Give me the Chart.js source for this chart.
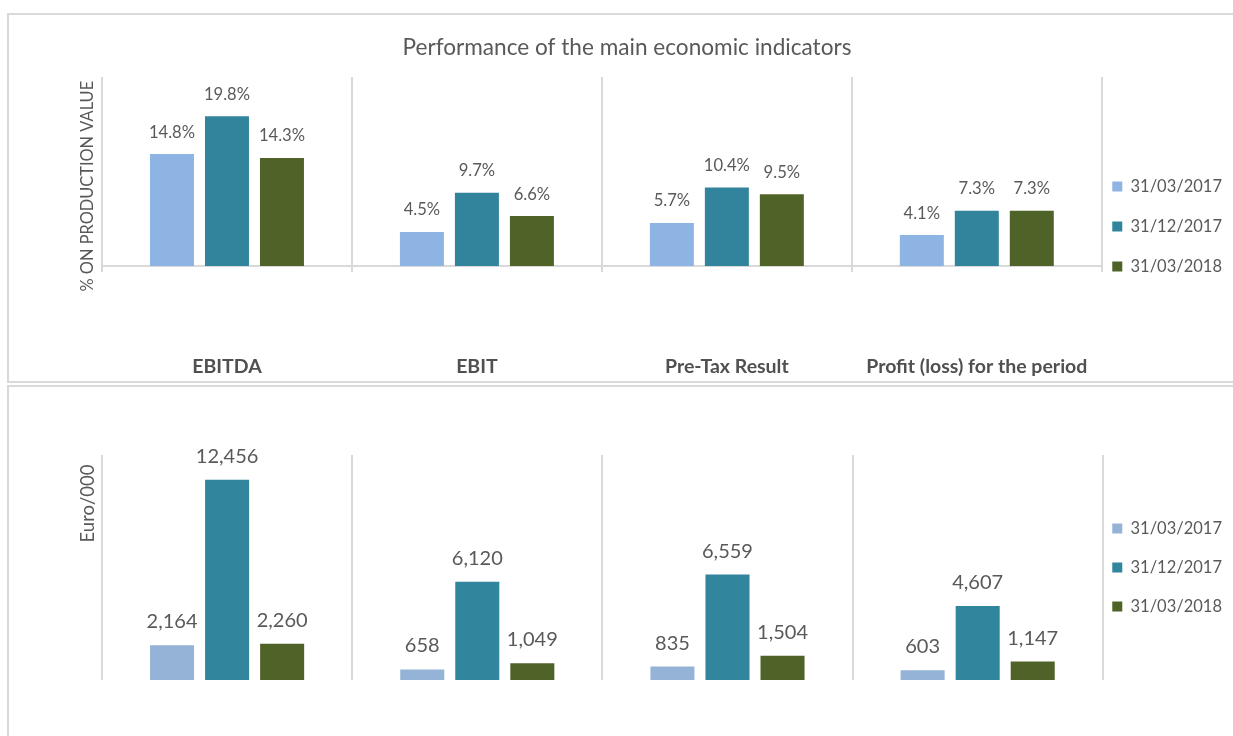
<!DOCTYPE html>
<html>
<head>
<meta charset="utf-8">
<script src="https://cdn.jsdelivr.net/npm/chart.js@4/dist/chart.umd.min.js"></script>
<style>
  html, body { margin: 0; padding: 0; background: #ffffff; overflow: hidden; width: 1233px; height: 736px; }
  .frame { position: absolute; left: 7px; width: 1236px; border: 2px solid #D9D9D9; box-sizing: content-box; background: #fff; }
  #f1 { top: 13px; height: 366px; }
  #f2 { top: 385px; height: 360px; }
  .frame canvas { display: block; }
</style>
</head>
<body>
<div class="frame" id="f1"><canvas id="c1" width="1236" height="366"></canvas></div>
<div class="frame" id="f2"><canvas id="c2" width="1236" height="360"></canvas></div>
<script>
// ---- data ----
const categories = ['EBITDA', 'EBIT', 'Pre-Tax Result', 'Profit (loss) for the period'];
const seriesLabels = ['31/03/2017', '31/12/2017', '31/03/2018'];
const pctQ1_2017 = [14.8, 4.5, 5.7, 4.1];
const pctFY_2017 = [19.8, 9.7, 10.4, 7.3];
const pctQ1_2018 = [14.3, 6.6, 9.5, 7.3];
const eurQ1_2017 = [2164, 658, 835, 603];
const eurFY_2017 = [12456, 6120, 6559, 4607];
const eurQ1_2018 = [2260, 1049, 1504, 1147];
const chartTitle = 'Performance of the main economic indicators';
const pctAxisTitle = '% ON PRODUCTION VALUE';
const eurAxisTitle = 'Euro/000';

// ---- helpers ----
const FONT = 'Lato';
const nb = n => '\u00A0'.repeat(n);

function valueLabels(format, size, offset, color) {
  return {
    id: 'valueLabels',
    afterDatasetsDraw(chart) {
      const ctx = chart.ctx;
      ctx.save();
      ctx.font = size + 'px ' + FONT;
      ctx.fillStyle = color;
      ctx.textAlign = 'center';
      ctx.textBaseline = 'alphabetic';
      chart.data.datasets.forEach((ds, i) => {
        const meta = chart.getDatasetMeta(i);
        meta.data.forEach((bar, j) => {
          ctx.fillText(format(ds.data[j]), bar.x, bar.y - offset);
        });
      });
      ctx.restore();
    }
  };
}

function legendShift(dx, dy) {
  return {
    id: 'legendShift',
    afterLayout(chart) {
      const lg = chart.legend;
      if (!lg) return;
      lg.left += dx; lg.right += dx;
      lg.top += dy; lg.bottom += dy;
    }
  };
}

function makeDatasets(colors, a, b, c) {
  return [a, b, c].map((d, i) => ({
    label: seriesLabels[i],
    data: d,
    backgroundColor: colors[i],
    borderWidth: 0,
    categoryPercentage: 0.66,
    barPercentage: 0.8
  }));
}

// ---- top chart (% on production value) ----
new Chart(document.getElementById('c1'), {
  type: 'bar',
  data: {
    labels: categories,
    datasets: makeDatasets(['#8EB4E3', '#31849B', '#4F6228'], pctQ1_2017, pctFY_2017, pctQ1_2018)
  },
  options: {
    responsive: false,
    animation: false,
    devicePixelRatio: 1,
    layout: { padding: { left: 0, right: 0, top: 0, bottom: 0 } },
    plugins: {
      title: {
        display: true, text: chartTitle, color: '#595959',
        font: { family: FONT, size: 22.6, weight: 'normal' },
        padding: { top: 19.4, bottom: 15.5 }
      },
      legend: {
        position: 'right',
        labels: {
          boxWidth: 10, boxHeight: 10, padding: 23.5, color: '#595959',
          font: { family: FONT, size: 16.5 }
        }
      },
      tooltip: { enabled: false }
    },
    scales: {
      x: {
        grid: { color: '#D9D9D9', lineWidth: 2, tickLength: 6, offset: true, drawTicks: true },
        border: { display: true, color: '#D9D9D9', width: 2 },
        ticks: {
          padding: 83.5, color: '#505050', maxRotation: 0, autoSkip: false,
          font: { family: FONT, size: 19.5, weight: 'bold' }
        },
        afterFit(s) { s.height = 115; }
      },
      y: {
        min: 0, max: 25,
        grid: { display: false },
        border: { display: false },
        ticks: { display: false },
        title: {
          display: true, text: pctAxisTitle + nb(7), color: '#595959',
          font: { family: FONT, size: 16.4 }, padding: { top: 69.2, bottom: 0 }
        },
        afterFit(s) { s.width = 93; }
      }
    }
  },
  plugins: [valueLabels(v => v.toFixed(1) + '%', 16.6, 16.5, '#595959'), legendShift(-13, 28.5)]
});

// ---- bottom chart (Euro/000) ----
new Chart(document.getElementById('c2'), {
  type: 'bar',
  data: {
    labels: categories,
    datasets: makeDatasets(['#95B3D7', '#31859C', '#4F6228'], eurQ1_2017, eurFY_2017, eurQ1_2018)
  },
  options: {
    responsive: false,
    animation: false,
    devicePixelRatio: 1,
    layout: { padding: { left: 0, right: 0, top: 68, bottom: 0 } },
    plugins: {
      title: { display: false },
      legend: {
        position: 'right',
        labels: {
          boxWidth: 10, boxHeight: 10, padding: 22.5, color: '#595959',
          font: { family: FONT, size: 16.5 }
        }
      },
      tooltip: { enabled: false }
    },
    scales: {
      x: {
        grid: { color: '#D9D9D9', lineWidth: 2, offset: true, drawTicks: false },
        border: { display: false },
        ticks: { display: false },
        afterFit(s) { s.height = 67; }
      },
      y: {
        min: 0, max: 14000,
        grid: { display: false },
        border: { display: false },
        ticks: { display: false },
        title: {
          display: true, text: eurAxisTitle + nb(2), align: 'end', color: '#595959',
          font: { family: FONT, size: 18.5 }, padding: { top: 67.9, bottom: 0 }
        },
        afterFit(s) { s.width = 93; }
      }
    }
  },
  plugins: [valueLabels(v => v.toLocaleString('en-US'), 20, 17, '#595959'), legendShift(-13, -33.5)]
});
</script>
</body>
</html>
